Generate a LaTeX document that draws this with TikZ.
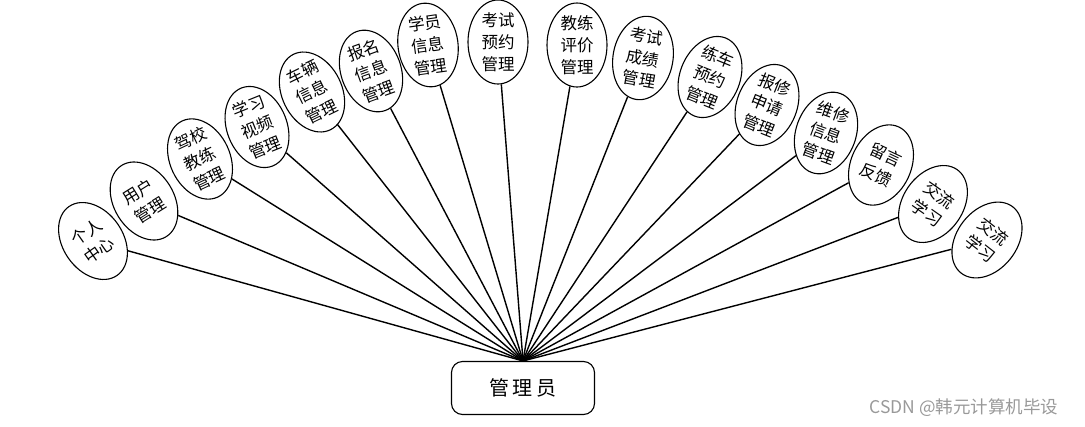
\documentclass[tikz,border=0pt]{standalone}
\usepackage{fontspec}
\newfontfamily\cjk{Noto Sans CJK SC}
\usetikzlibrary{shapes.geometric}
\tikzset{
  ell/.style={ellipse, draw, line width=1.1pt, minimum width=60pt, minimum height=84pt, inner sep=0pt,
    align=center, font=\cjk\fontsize{16.5}{22}\selectfont},
  rootbox/.style={draw, line width=1.1pt, rounded corners=11pt, minimum width=143pt, minimum height=53pt,
    font=\cjk\fontsize{20}{22}\selectfont},
  link/.style={line width=1.4pt},
  mark text/.style={text=black!40, font=\cjk\fontsize{17.5}{20}\selectfont}
}
\begin{document}
\begin{tikzpicture}[x=1pt,y=-1pt]
\useasboundingbox (0,0) rectangle (1085,426);
\node[rootbox] (root) at (523,388) {管\,理\,员};
\node[ell, rotate=35]  (n1)  at (93,241)  {个人\\中心};
\node[ell, rotate=32]  (n2)  at (144,201) {用户\\管理};
\node[ell, rotate=25]  (n3)  at (200,159) {驾校\\教练\\管理};
\node[ell, rotate=22]  (n4)  at (257,127) {学习\\视频\\管理};
\node[ell, rotate=26]  (n5)  at (312,92)  {车辆\\信息\\管理};
\node[ell, rotate=20]  (n6)  at (371,71)  {报名\\信息\\管理};
\node[ell, rotate=8]   (n7)  at (428,45)  {学员\\信息\\管理};
\node[ell, rotate=0]   (n8)  at (498,42)  {考试\\预约\\管理};
\node[ell, rotate=0]   (n9)  at (577,45)  {教练\\评价\\管理};
\node[ell, rotate=-10] (n10) at (643,58)  {考试\\成绩\\管理};
\node[ell, rotate=-22] (n11) at (710,77)  {练车\\预约\\管理};
\node[ell, rotate=-22] (n12) at (767,105) {报修\\申请\\管理};
\node[ell, rotate=-20] (n13) at (826,133) {维修\\信息\\管理};
\node[ell, rotate=-25] (n14) at (881,165) {留言\\反馈};
\node[ell, rotate=-35] (n15) at (933,204) {交流\\学习};
\node[ell, rotate=-38] (n16) at (987,240) {交流\\学习};
\foreach \i in {1,...,16} { \draw[link] (root.north) -- (n\i); }
\node[mark text] (wm) at (964,408) {CSDN @韩元计算机毕设};
\end{tikzpicture}
\end{document}
